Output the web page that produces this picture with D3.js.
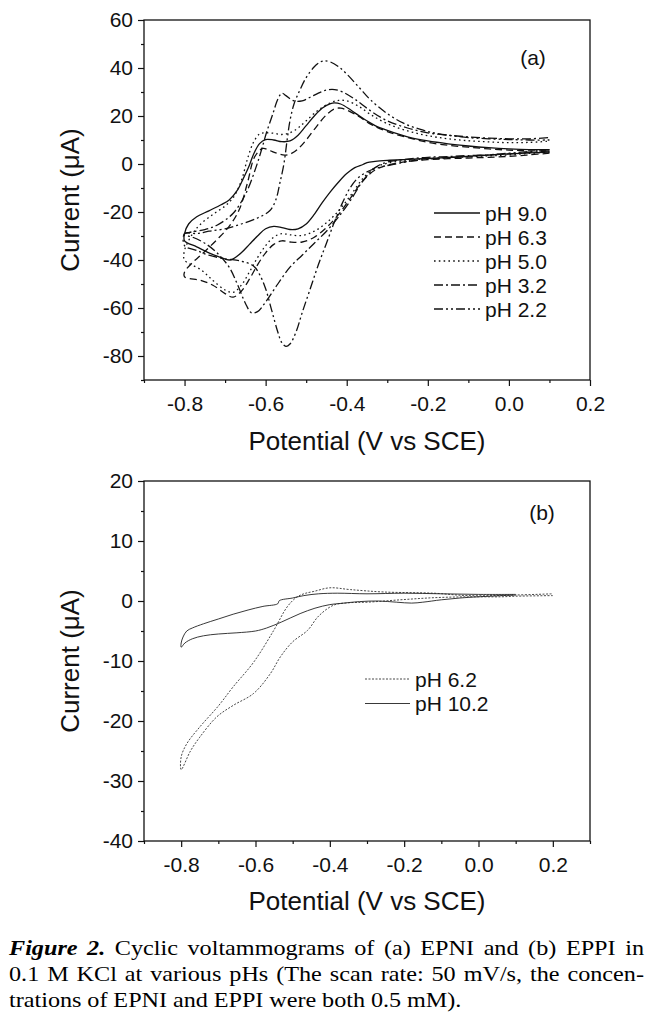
<!DOCTYPE html>
<html><head><meta charset="utf-8">
<script src="https://cdn.jsdelivr.net/npm/d3@7"></script>
<style>body{margin:0;background:#fff}svg{display:block}</style>
</head><body>
<svg id="c" width="663" height="1019"></svg>
<script>
// ---------------- data ----------------
const xTicksA = [-0.8, -0.6, -0.4, -0.2, 0.0, 0.2];
const xMinorA = [-0.9, -0.7, -0.5, -0.3, -0.1, 0.1];
const yTicksA = [-80, -60, -40, -20, 0, 20, 40, 60];
const yMinorA = [-90, -70, -50, -30, -10, 10, 30, 50];
const xTicksB = [-0.8, -0.6, -0.4, -0.2, 0.0, 0.2];
const xMinorB = [-0.9, -0.7, -0.5, -0.3, -0.1, 0.1, 0.3];
const yTicksB = [-40, -30, -20, -10, 0, 10, 20];
const yMinorB = [-35, -25, -15, -5, 5, 15];
const legendA = ["pH 9.0", "pH 6.3", "pH 5.0", "pH 3.2", "pH 2.2"];
const legendB = ["pH 6.2", "pH 10.2"];
const xTitle = "Potential (V vs SCE)";
const yTitle = "Current (\u03bcA)";

// panel (a) curves: [potential V, current µA], cathodic branch 0.1 -> -0.8 then anodic branch -0.8 -> 0.1
const pH90 = [[0.10,5.0],[0.05,4.6],[0.0,4.2],[-0.05,3.7],[-0.10,3.2],[-0.15,2.7],[-0.20,2.3],[-0.25,1.9],[-0.30,1.5],[-0.33,1.1],[-0.35,0.6],[-0.36,-0.2],[-0.38,-1.5],[-0.40,-4],[-0.42,-7.5],[-0.44,-11.5],[-0.46,-16],[-0.48,-21],[-0.50,-25],[-0.52,-27],[-0.54,-27.3],[-0.56,-26.5],[-0.58,-26],[-0.60,-27],[-0.62,-30],[-0.64,-33.5],[-0.66,-37],[-0.68,-39.5],[-0.69,-40],[-0.71,-39],[-0.74,-37],[-0.77,-34.5],[-0.80,-32],
  [-0.80,-29],[-0.79,-25],[-0.77,-22],[-0.74,-19.5],[-0.71,-17],[-0.69,-15],[-0.67,-11],[-0.655,-6],[-0.64,-0.5],[-0.63,4],[-0.615,8.5],[-0.60,10.2],[-0.58,10],[-0.56,9.3],[-0.54,9.6],[-0.52,12],[-0.50,16],[-0.48,20],[-0.46,23.3],[-0.44,25.2],[-0.43,25.5],[-0.415,25],[-0.39,22.5],[-0.36,19],[-0.33,16],[-0.30,14],[-0.25,11.3],[-0.20,9.6],[-0.15,8.4],[-0.10,7.5],[-0.05,6.8],[0.0,6.3],[0.05,6],[0.10,6]];
const pH63 = [[0.10,4.5],[0.05,3.8],[0.0,3.2],[-0.05,2.8],[-0.10,2.5],[-0.15,2.2],[-0.20,1.8],[-0.25,1],[-0.30,-0.5],[-0.33,-2.5],[-0.36,-7],[-0.39,-14],[-0.42,-21],[-0.45,-26.5],[-0.48,-30.5],[-0.51,-32.5],[-0.54,-32.5],[-0.56,-32],[-0.58,-33.5],[-0.60,-37],[-0.62,-42],[-0.64,-48],[-0.66,-53],[-0.68,-55.5],[-0.70,-54],[-0.73,-50.5],[-0.76,-48.5],[-0.80,-47],
  [-0.80,-45],[-0.78,-41],[-0.76,-38],[-0.72,-31.5],[-0.69,-26],[-0.665,-19],[-0.645,-8],[-0.627,3],[-0.607,6.5],[-0.59,5.6],[-0.575,4.6],[-0.553,3.7],[-0.535,4.5],[-0.52,6.3],[-0.50,10],[-0.475,15.5],[-0.45,20.5],[-0.43,23],[-0.415,23.3],[-0.40,22.5],[-0.37,19.8],[-0.34,16.5],[-0.30,13.5],[-0.25,11],[-0.20,9],[-0.15,7.8],[-0.10,7],[-0.05,6.3],[0.0,5.8],[0.05,5.5],[0.10,5.5]];
const pH50 = [[0.10,5],[0.05,4.4],[0.0,3.8],[-0.05,3.4],[-0.10,3],[-0.15,2.7],[-0.20,2.3],[-0.25,1.5],[-0.30,0.3],[-0.33,-1.5],[-0.36,-6],[-0.39,-13],[-0.42,-19.5],[-0.45,-24.5],[-0.48,-28],[-0.51,-29.8],[-0.54,-29.5],[-0.56,-29],[-0.58,-30.5],[-0.60,-34],[-0.62,-39],[-0.64,-45],[-0.66,-50.5],[-0.68,-53.5],[-0.70,-52.5],[-0.73,-48.5],[-0.76,-44],[-0.80,-40],
  [-0.80,-36],[-0.78,-29],[-0.76,-25],[-0.73,-21],[-0.70,-17.5],[-0.68,-14],[-0.66,-7],[-0.645,2],[-0.63,9],[-0.615,12.5],[-0.60,13],[-0.58,12.8],[-0.56,12.3],[-0.54,13],[-0.52,15],[-0.50,18],[-0.47,22.5],[-0.44,25.5],[-0.42,26.5],[-0.40,26.3],[-0.37,24],[-0.34,20.5],[-0.30,16.8],[-0.25,13.8],[-0.20,11.8],[-0.15,10.5],[-0.10,9.7],[-0.05,9.2],[0.0,8.9],[0.05,9],[0.10,9.5]];
const pH32 = [[0.10,5.5],[0.05,4.8],[0.0,4.2],[-0.05,3.8],[-0.10,3.5],[-0.15,3.1],[-0.20,2.8],[-0.25,2],[-0.30,0.8],[-0.33,-1.5],[-0.36,-7],[-0.39,-15],[-0.42,-22],[-0.45,-28],[-0.48,-33],[-0.51,-38],[-0.54,-43],[-0.57,-50],[-0.60,-57.5],[-0.62,-61.5],[-0.635,-62],[-0.65,-58],[-0.67,-50],[-0.69,-43],[-0.72,-37],[-0.75,-33],[-0.78,-30.5],[-0.80,-29.5],
  [-0.80,-29],[-0.788,-28.5],[-0.75,-27.3],[-0.72,-25.5],[-0.68,-20.5],[-0.648,-12],[-0.623,-1],[-0.61,6],[-0.598,13],[-0.582,21],[-0.57,27],[-0.56,29.5],[-0.55,28.5],[-0.53,26.3],[-0.51,26.3],[-0.49,27.8],[-0.47,29.5],[-0.45,30.8],[-0.43,31],[-0.41,30],[-0.38,27],[-0.34,22],[-0.30,18],[-0.25,15],[-0.20,13],[-0.15,12],[-0.10,11.3],[-0.05,10.8],[0.0,10.5],[0.05,10.5],[0.10,11]];
const pH22 = [[0.10,6],[0.05,5.2],[0.0,4.5],[-0.05,3.8],[-0.10,3.2],[-0.15,2.6],[-0.20,2],[-0.25,1],[-0.28,0],[-0.31,-1],[-0.34,-2.5],[-0.37,-5.5],[-0.39,-9.5],[-0.41,-16],[-0.43,-24],[-0.45,-33],[-0.47,-42],[-0.49,-52],[-0.51,-62],[-0.525,-70],[-0.54,-75],[-0.55,-76],[-0.56,-74.5],[-0.57,-70],[-0.585,-61],[-0.60,-52],[-0.615,-46],[-0.63,-42.5],[-0.66,-40.5],[-0.70,-39.5],[-0.74,-38],[-0.77,-36],[-0.80,-34],
  [-0.80,-29],[-0.77,-29],[-0.74,-28],[-0.70,-27],[-0.66,-25],[-0.62,-22.5],[-0.59,-19.5],[-0.575,-15],[-0.565,-8],[-0.555,0],[-0.547,10],[-0.54,18],[-0.53,25],[-0.515,31],[-0.50,36],[-0.48,40.5],[-0.465,42.5],[-0.455,43],[-0.44,42.5],[-0.42,40.5],[-0.40,37.5],[-0.37,32],[-0.34,26.5],[-0.30,21],[-0.26,17],[-0.22,14.5],[-0.18,12.8],[-0.14,11.8],[-0.10,11],[-0.05,10.5],[0.0,10.2],[0.05,10],[0.10,10]];

// panel (b) curves
const pH62 = [[0.20,0.9],[0.10,0.8],[0.06,0.7],[-0.03,0.7],[-0.12,0.55],[-0.21,0.2],[-0.30,-0.2],[-0.35,-0.3],[-0.39,-0.7],[-0.43,-2.5],[-0.46,-4.9],[-0.50,-6.8],[-0.533,-9.3],[-0.56,-12.1],[-0.605,-15.4],[-0.66,-17.4],[-0.704,-19.3],[-0.75,-22.7],[-0.775,-25],[-0.80,-28.1],
  [-0.80,-26],[-0.785,-23.8],[-0.75,-21],[-0.70,-17.5],[-0.66,-14.3],[-0.605,-10.2],[-0.551,-4.9],[-0.515,-1],[-0.49,0.6],[-0.47,1.2],[-0.443,1.6],[-0.40,2.2],[-0.345,1.9],[-0.255,1.5],[-0.12,1.3],[-0.03,0.9],[0.10,1.0],[0.20,1.2]];
const pH102 = [[0.10,1.0],[0.0,0.7],[-0.05,0.5],[-0.10,0.2],[-0.15,-0.2],[-0.18,-0.35],[-0.22,-0.2],[-0.27,0],[-0.32,-0.1],[-0.37,-0.4],[-0.40,-0.6],[-0.44,-1.2],[-0.48,-2.1],[-0.53,-3.5],[-0.57,-4.5],[-0.60,-5],[-0.65,-5.3],[-0.70,-5.5],[-0.74,-5.8],[-0.77,-6.3],[-0.79,-7],[-0.80,-7.7],
  [-0.80,-7],[-0.795,-6],[-0.785,-5],[-0.77,-4.5],[-0.74,-3.8],[-0.70,-3],[-0.66,-2.2],[-0.62,-1.5],[-0.58,-0.9],[-0.54,-0.45],[-0.536,0.05],[-0.50,0.5],[-0.47,0.9],[-0.43,1.2],[-0.38,1.3],[-0.30,1.2],[-0.20,1.3],[-0.10,1.2],[0.0,1.1],[0.10,1.1]];

const captionLines = [
  ["Figure", "2.", "Cyclic", "voltammograms", "of", "(a)", "EPNI", "and", "(b)", "EPPI", "in"],
  ["0.1", "M", "KCl", "at", "various", "pHs", "(The", "scan", "rate:", "50", "mV/s,", "the", "concen-"],
  ["trations", "of", "EPNI", "and", "EPPI", "were", "both", "0.5", "mM)."]
];

// ---------------- drawing ----------------
const svg = d3.select("#c");
const SANS = "'Liberation Sans', Arial, Helvetica, sans-serif";
const SERIF = "'Liberation Serif', 'Times New Roman', serif";
const fmtX = d => d.toFixed(1);
const fmtY = d => String(d);

const styles = {
  solid: null,
  dash: "7,4",
  dot: "1.6,3.2",
  dashdot: "9,3,2,3",
  dashdotdot: "9,3,2,3,2,3"
};

function panel(cfg) {
  const x = d3.scaleLinear().domain(cfg.xd).range([144, 590]);
  const y = d3.scaleLinear().domain(cfg.yd).range(cfg.yr);
  const g = svg.append("g");
  const y0 = cfg.yr[0], y1 = cfg.yr[1];

  // minor ticks
  g.append("g").attr("transform", `translate(0,${y0})`)
    .call(d3.axisBottom(x).tickValues(cfg.xMinor).tickSize(3).tickFormat(""))
    .call(s => s.select(".domain").remove());
  g.append("g").attr("transform", `translate(144,0)`)
    .call(d3.axisLeft(y).tickValues(cfg.yMinor).tickSize(3).tickFormat(""))
    .call(s => s.select(".domain").remove());
  // major axes
  const ax = g.append("g").attr("transform", `translate(0,${y0})`)
    .call(d3.axisBottom(x).tickValues(cfg.xTicks).tickSize(6).tickSizeOuter(0).tickPadding(10).tickFormat(fmtX));
  const ay = g.append("g").attr("transform", `translate(144,0)`)
    .call(d3.axisLeft(y).tickValues(cfg.yTicks).tickSize(6).tickSizeOuter(0).tickPadding(5).tickFormat(fmtY));
  g.selectAll(".tick line").attr("stroke", "#111").attr("stroke-width", 1.2);
  ax.selectAll("text").attr("font-family", SANS).attr("font-size", 21).attr("fill", "#111").attr("dy", "0.71em");
  ay.selectAll("text").attr("font-family", SANS).attr("font-size", 21).attr("fill", "#111");
  g.selectAll(".domain").remove();

  // box
  g.append("rect").attr("x", x.range()[0]).attr("y", y1)
    .attr("width", x.range()[1] - x.range()[0]).attr("height", y0 - y1)
    .attr("fill", "none").attr("stroke", "#111").attr("stroke-width", 1.3);

  // curves
  const line = d3.line().x(d => x(d[0])).y(d => y(d[1])).curve(d3.curveCatmullRom.alpha(0.5));
  cfg.series.forEach(s => {
    g.append("path").datum(s.data).attr("d", line)
      .attr("fill", "none").attr("stroke", s.color || "#111")
      .attr("stroke-width", cfg.lw)
      .attr("stroke-dasharray", s.dash)
      .attr("stroke-linejoin", "round");
  });

  // legend
  cfg.series.forEach((s, i) => {
    const ly = cfg.legY + i * cfg.legStep;
    g.append("line").attr("x1", cfg.legX0).attr("x2", cfg.legX1).attr("y1", ly).attr("y2", ly)
      .attr("stroke", s.color || "#111").attr("stroke-width", cfg.lw).attr("stroke-dasharray", s.dash);
    g.append("text").attr("x", cfg.legX1 + 5).attr("y", ly).attr("dy", "0.36em")
      .attr("font-family", SANS).attr("font-size", 21).attr("fill", "#111").text(s.name);
  });

  // panel tag
  g.append("text").attr("x", cfg.tagX).attr("y", cfg.tagY).attr("text-anchor", "middle")
    .attr("dy", "0.36em").attr("font-family", SANS).attr("font-size", 21).attr("fill", "#111").text(cfg.tag);

  // titles
  g.append("text").attr("x", 367).attr("y", cfg.xTitleY).attr("text-anchor", "middle")
    .attr("font-family", SANS).attr("font-size", 26).attr("fill", "#111").text(xTitle);
  g.append("text").attr("transform", `translate(79,${(y0 + y1) / 2}) rotate(-90)`).attr("text-anchor", "middle")
    .attr("font-family", SANS).attr("font-size", 26).attr("fill", "#111").text(yTitle);
}

panel({
  xd: [-0.9, 0.2], yd: [-90, 60], yr: [380, 20],
  xTicks: xTicksA, xMinor: xMinorA, yTicks: yTicksA, yMinor: yMinorA,
  lw: 1.3,
  series: [
    { name: legendA[0], data: pH90, dash: styles.solid },
    { name: legendA[1], data: pH63, dash: styles.dash },
    { name: legendA[2], data: pH50, dash: styles.dot },
    { name: legendA[3], data: pH32, dash: styles.dashdot },
    { name: legendA[4], data: pH22, dash: styles.dashdotdot }
  ],
  legX0: 434, legX1: 480, legY: 213, legStep: 24,
  tag: "(a)", tagX: 533, tagY: 57, xTitleY: 450
});

panel({
  xd: [-0.9, 0.3], yd: [-40, 20], yr: [841, 481],
  xTicks: xTicksB, xMinor: xMinorB, yTicks: yTicksB, yMinor: yMinorB,
  lw: 0.9,
  series: [
    { name: legendB[0], data: pH62, dash: "2,1.5", color: "#333" },
    { name: legendB[1], data: pH102, dash: styles.solid, color: "#222" }
  ],
  legX0: 365, legX1: 410, legY: 679, legStep: 24.5,
  tag: "(b)", tagX: 542, tagY: 512, xTitleY: 910
});

// caption (justified lines 1-2), glyphs slightly widened like the scanned Times face
const capX0 = 9, capX1 = 644, capY = [955, 981, 1007], capSX = 1.1;
const capG = svg.append("g").attr("transform", `translate(${capX0},0) scale(${capSX},1)`);
captionLines.forEach((words, li) => {
  const t = capG.append("text").attr("y", capY[li]).attr("font-family", SERIF).attr("font-size", 22).attr("fill", "#000");
  const spans = words.map((w, wi) => {
    const sp = t.append("tspan").text(w);
    if (li === 0 && wi < 2) sp.attr("font-weight", "bold").attr("font-style", "italic");
    return sp;
  });
  const widths = spans.map(s => s.node().getComputedTextLength());
  const total = d3.sum(widths);
  const avail = (capX1 - capX0) / capSX;
  let gap = 5.3;
  if (li < 2) gap = (avail - total) / (words.length - 1);
  let cx = 0;
  spans.forEach((s, i) => { s.attr("x", cx); cx += widths[i] + gap; });
});
</script>
</body></html>
